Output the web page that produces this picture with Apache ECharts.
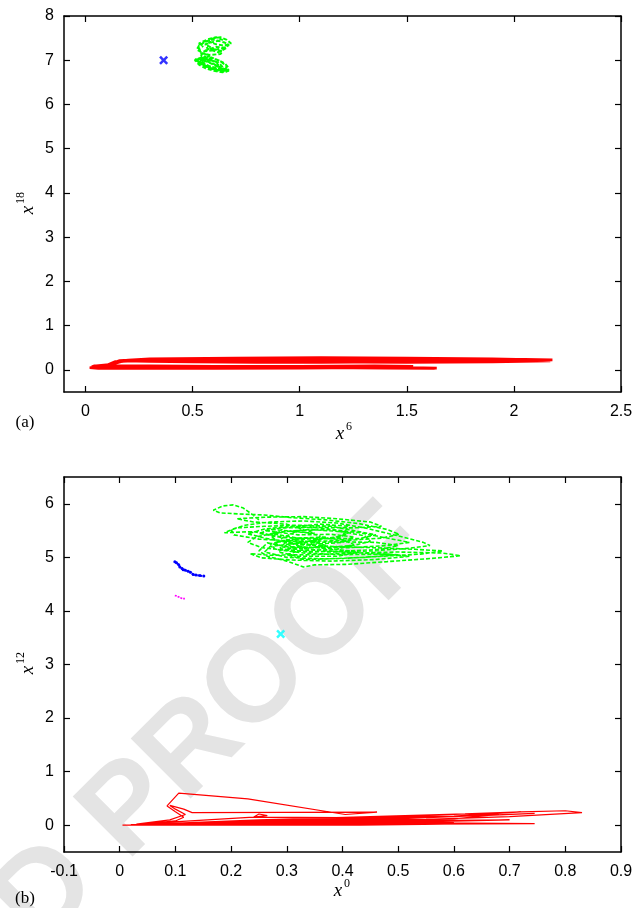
<!DOCTYPE html>
<html><head><meta charset="utf-8">
<script src="https://cdn.jsdelivr.net/npm/echarts@6/dist/echarts.min.js"></script>
<style>html,body{margin:0;padding:0;background:#fff}#c{width:643px;height:908px}</style>
</head><body><div id="c"></div>
<script>
// ---------- tick labels ----------
const xTicksA = [0, 0.5, 1, 1.5, 2, 2.5];
const yTicksA = [0, 1, 2, 3, 4, 5, 6, 7, 8];
const xTicksB = [-0.1, 0, 0.1, 0.2, 0.3, 0.4, 0.5, 0.6, 0.7, 0.8, 0.9];
const yTicksB = [0, 1, 2, 3, 4, 5, 6];

// ---------- panel (a): x^6 vs x^18 ----------
const redA = [
[1.63,0.03],[1.40,0.04],[1.10,0.05],[0.80,0.05],[0.50,0.06],[0.25,0.06],[0.08,0.06],[0.03,0.07],[0.04,0.09],[0.09,0.09],
[0.11,0.13],[0.14,0.19],[0.20,0.22],[0.35,0.24],[0.60,0.26],[0.90,0.27],[1.20,0.27],[1.50,0.26],[1.80,0.25],[2.05,0.24],
[2.18,0.23],[2.00,0.21],[1.70,0.19],[1.40,0.18],[1.10,0.17],[0.80,0.17],[0.50,0.18],[0.30,0.19],[0.18,0.20],[0.25,0.22],
[0.50,0.23],[0.90,0.24],[1.30,0.24],[1.70,0.22],[2.17,0.20],[1.90,0.18],[1.50,0.17],[1.10,0.18],[0.70,0.20],[0.40,0.21],
[0.22,0.21],[0.15,0.18],[0.10,0.11],[0.06,0.08],[0.02,0.05],[0.06,0.03],[0.30,0.04],[0.70,0.05],[1.10,0.06],[1.40,0.07],
[1.53,0.08],[1.35,0.09],[1.00,0.08],[0.60,0.08],[0.30,0.09],[0.10,0.09],[0.03,0.05],[0.20,0.03],[0.60,0.03],[1.00,0.04],
[1.30,0.05],[1.50,0.05],[1.64,0.04],[1.45,0.06],[1.10,0.07],[0.70,0.07],[0.35,0.07],[0.12,0.07],[0.05,0.09],[0.11,0.12],
[0.16,0.21],[0.30,0.25],[0.70,0.27],[1.10,0.28],[1.50,0.27],[1.90,0.25],[2.18,0.22],[1.95,0.20],[1.60,0.19],[1.20,0.19],
[0.80,0.19],[0.45,0.20],[0.25,0.20],[0.40,0.22],[0.80,0.22],[1.20,0.22],[1.60,0.21],[2.10,0.21],[1.80,0.23],[1.40,0.25],
[1.00,0.25],[0.60,0.24],[0.30,0.22],[0.17,0.19],[0.12,0.12],[0.07,0.07],[0.15,0.05],[0.40,0.05],[0.80,0.06],[1.20,0.07],
[1.52,0.07]
];
const greenA = [
[0.52,7.02],[0.56,7.05],[0.61,7.02],[0.65,6.93],[0.67,6.82],[0.66,6.74],[0.62,6.76],[0.57,6.84],[0.53,6.93],[0.51,7.00],
[0.54,7.06],[0.59,7.06],[0.63,6.98],[0.66,6.86],[0.65,6.76],[0.60,6.79],[0.55,6.90],[0.52,6.98],[0.53,7.04],[0.58,7.09],
[0.55,7.16],[0.52,7.24],[0.53,7.33],[0.56,7.42],[0.60,7.50],[0.63,7.52],[0.66,7.46],[0.68,7.38],[0.65,7.33],[0.61,7.36],
[0.58,7.42],[0.57,7.33],[0.60,7.25],[0.64,7.20],[0.63,7.14],[0.58,7.12],[0.54,7.16],[0.53,7.28],[0.55,7.40],[0.59,7.47],
[0.62,7.44],[0.65,7.40],[0.67,7.34],[0.64,7.27],[0.59,7.22],[0.55,7.20],[0.54,7.10],[0.57,7.02],[0.62,6.95],[0.64,6.85],
[0.63,6.78],[0.59,6.80],[0.54,6.92],[0.52,6.99],[0.56,7.03],[0.60,6.98],[0.62,6.90],[0.61,6.82],[0.57,6.88],[0.53,6.96],
[0.51,7.02],[0.55,7.00],[0.59,6.94],[0.62,6.86],[0.65,6.80],[0.67,6.76],[0.64,6.73],[0.60,6.76],[0.56,6.82],[0.53,6.90],
[0.52,6.96],[0.56,6.98],[0.60,6.90],[0.63,6.82],[0.66,6.78],[0.63,6.80],[0.58,6.86],[0.54,6.97],[0.57,7.05],[0.54,7.12],
[0.56,7.22],[0.61,7.30],[0.66,7.28],[0.62,7.18],[0.57,7.26],[0.56,7.36],[0.60,7.42],[0.64,7.46],[0.61,7.52],[0.57,7.47],
[0.53,7.38],[0.55,7.30]
];
const blueA = [[0.365,7.0]];

// ---------- panel (b): x^0 vs x^12 ----------
const redB = [
[0.005,0.00],[0.15,0.03],[0.35,0.07],[0.55,0.11],[0.70,0.16],[0.83,0.235],[0.80,0.27],[0.72,0.25],[0.60,0.20],[0.45,0.15],
[0.30,0.10],[0.15,0.05],[0.02,0.01],[0.20,0.04],[0.45,0.10],[0.745,0.22],[0.65,0.18],[0.48,0.14],[0.30,0.09],[0.12,0.04],
[0.01,0.00],[0.25,0.03],[0.50,0.05],[0.745,0.03],[0.55,0.02],[0.30,0.01],[0.05,0.00],[0.30,0.02],[0.583,0.02],[0.43,0.00],
[0.20,0.00],[0.02,0.00],[0.10,0.08],[0.115,0.15],[0.10,0.25],[0.085,0.36],[0.106,0.60],[0.23,0.49],[0.405,0.20],[0.462,0.245],
[0.30,0.24],[0.13,0.235],[0.115,0.30],[0.09,0.37],[0.10,0.30],[0.118,0.20],[0.09,0.10],[0.03,0.02],[0.24,0.15],[0.25,0.21],
[0.265,0.18],[0.24,0.15],[0.40,0.14],[0.60,0.17],[0.72,0.25],[0.62,0.21],[0.45,0.16],[0.25,0.10],[0.08,0.03],[0.35,0.05],
[0.58,0.07],[0.70,0.10],[0.50,0.08],[0.30,0.05],[0.05,0.01],[0.40,0.03],[0.60,0.06],[0.40,0.04],[0.15,0.01],[0.01,0.00],
[0.20,0.02],[0.40,0.06],[0.55,0.09],[0.47,0.13],[0.35,0.12],[0.20,0.07],[0.06,0.02],[0.25,0.05],[0.45,0.08],[0.60,0.12],
[0.68,0.20],[0.55,0.14],[0.38,0.09],[0.18,0.03],[0.01,0.00],[0.30,0.06],[0.52,0.10],[0.42,0.11],[0.28,0.08],[0.12,0.03],
[0.02,0.00],[0.35,0.03],[0.58,0.05],[0.45,0.06],[0.25,0.04],[0.06,0.01]
];
const greenB = [
[0.250,5.70],[0.238,5.80],[0.222,5.92],[0.204,5.98],[0.185,5.96],[0.168,5.88],[0.180,5.83],[0.215,5.81],[0.260,5.79],
[0.310,5.74],[0.370,5.70],[0.430,5.63],[0.480,5.52],[0.502,5.43],[0.470,5.36],[0.400,5.31],[0.320,5.30],[0.250,5.34],[0.205,5.42],[0.200,5.52],
[0.225,5.60],[0.270,5.66],[0.330,5.68],[0.390,5.64],[0.440,5.55],[0.500,5.40],[0.545,5.28],[0.557,5.22],[0.520,5.17],[0.450,5.12],
[0.380,5.10],[0.310,5.12],[0.255,5.18],[0.230,5.28],[0.245,5.38],[0.285,5.47],[0.340,5.52],[0.400,5.48],[0.440,5.40],[0.450,5.30],
[0.420,5.22],[0.360,5.18],[0.300,5.20],[0.265,5.27],[0.250,5.12],[0.265,5.02],[0.300,4.93],[0.330,4.82],[0.350,4.86],[0.410,4.87],
[0.480,4.92],[0.560,4.98],[0.612,5.03],[0.580,5.08],[0.500,5.10],[0.420,5.08],[0.340,5.05],[0.270,5.04],[0.234,5.07],[0.255,4.99],
[0.310,4.95],[0.380,4.93],[0.460,4.96],[0.520,5.02],[0.480,5.06],[0.400,5.05],[0.330,5.08],[0.280,5.15],[0.270,5.25],[0.300,5.33],
[0.350,5.37],[0.400,5.33],[0.420,5.24],[0.390,5.15],[0.330,5.13],[0.290,5.20],[0.300,5.30],[0.345,5.30],[0.370,5.22],[0.335,5.17],
[0.310,5.25],[0.330,5.32],[0.280,5.40],[0.240,5.48],[0.188,5.46],[0.210,5.55],[0.260,5.58],[0.320,5.60],[0.380,5.58],[0.420,5.50],
[0.460,5.42],[0.430,5.35],[0.360,5.35],[0.290,5.37],[0.250,5.45],[0.275,5.52],[0.330,5.47],[0.360,5.40],[0.350,5.28],[0.330,5.15],
[0.300,5.05],[0.330,4.96],[0.400,4.98],[0.470,5.02],[0.540,5.06],[0.580,5.12],[0.530,5.15],[0.460,5.18],[0.390,5.20],[0.320,5.24],
[0.280,5.32],[0.270,5.42],[0.300,5.49],[0.350,5.45],[0.300,5.62],[0.240,5.66],[0.210,5.72],[0.260,5.75],[0.330,5.76],[0.390,5.72],
[0.450,5.66],[0.470,5.58],[0.420,5.55],[0.350,5.56],[0.290,5.55],[0.260,5.50],[0.320,5.42],[0.380,5.43],[0.420,5.38],[0.400,5.28],
[0.340,5.24],[0.300,5.28],[0.260,5.36],[0.230,5.44],[0.260,5.53],[0.310,5.58],[0.370,5.54],[0.410,5.45],[0.390,5.36],[0.330,5.34],
[0.280,5.28],[0.290,5.16],[0.340,5.10],[0.410,5.12],[0.470,5.15],[0.500,5.22],[0.460,5.28],[0.390,5.29],[0.320,5.27],[0.270,5.20],
[0.260,5.10],[0.300,5.00],[0.370,4.97],[0.440,5.00],[0.500,5.05],[0.440,5.08],[0.370,5.12],[0.310,5.18],[0.290,5.35],[0.320,5.50],
[0.380,5.52],[0.430,5.46],[0.480,5.36],[0.520,5.28],[0.480,5.22],[0.410,5.18],[0.350,5.20],[0.340,5.30],[0.370,5.38],[0.320,5.36],
[0.275,5.44],[0.300,5.56],[0.360,5.62],[0.410,5.58],[0.400,5.40],[0.350,5.32],[0.300,5.24],[0.285,5.10],[0.320,5.02],[0.390,5.02],
[0.430,5.10],[0.380,5.16],[0.320,5.20],[0.300,5.14]
];
const blueB = [
[0.099,4.92],[0.102,4.90],[0.106,4.86],[0.108,4.82],[0.112,4.79],[0.114,4.77],[0.118,4.76],[0.123,4.74],[0.127,4.72],[0.132,4.68],
[0.137,4.67],[0.144,4.66],[0.151,4.65]
];
const magentaB = [[0.099,4.29],[0.104,4.27],[0.108,4.25],[0.113,4.23],[0.117,4.23]];
const cyanB = [[0.289,3.57]];

// ---------- chart ----------
const SANS = '"Liberation Sans", Arial, sans-serif';
const SERIF = '"Liberation Serif", "Times New Roman", serif';
const X_SYMBOL = 'path://M0,2L2,0L5,3L8,0L10,2L7,5L10,8L8,10L5,7L2,10L0,8L3,5Z';

function xAx(grid, min, max, ticks, pos) {
  const bottom = pos === 'bottom';
  return {
    type: 'value', gridIndex: grid, min: min, max: max, position: pos,
    axisLine: {show: true, onZero: false, lineStyle: {color: '#000', width: 1.5}}, splitLine: {show: false},
    axisTick: {show: true, inside: true, length: 6, customValues: ticks, lineStyle: {color: '#000', width: 1.2}},
    axisLabel: {show: bottom, customValues: ticks, margin: 12, fontSize: 16, color: '#000', fontFamily: SANS,
      formatter: v => String(v)}
  };
}
function yAx(grid, min, max, ticks, pos) {
  const left = pos === 'left';
  return {
    type: 'value', gridIndex: grid, min: min, max: max, position: pos,
    axisLine: {show: true, onZero: false, lineStyle: {color: '#000', width: 1.5}}, splitLine: {show: false},
    axisTick: {show: true, inside: true, length: 6, customValues: ticks, lineStyle: {color: '#000', width: 1.2}},
    axisLabel: {show: left, customValues: ticks, margin: 10, fontSize: 16, color: '#000', fontFamily: SANS,
      formatter: v => String(v)}
  };
}
function title(cx, cy, sup, rot) {
  return {
    type: 'group', x: cx, y: cy, rotation: rot || 0, z: 10,
    children: [
      {type: 'text', x: -3, y: 0, style: {text: 'x', font: 'italic 19px ' + SERIF, fill: '#000',
        align: 'center', verticalAlign: 'middle', textAlign: 'center', textVerticalAlign: 'middle'}},
      {type: 'text', x: 3, y: -7, style: {text: sup, font: '12px ' + SERIF, fill: '#000',
        align: 'left', verticalAlign: 'middle', textAlign: 'left', textVerticalAlign: 'middle'}}
    ]
  };
}
function plain(cx, cy, txt) {
  return {type: 'text', x: cx, y: cy, z: 10, style: {text: txt, font: '17px ' + SERIF, fill: '#000',
    align: 'center', verticalAlign: 'middle', textAlign: 'center', textVerticalAlign: 'middle'}};
}
function lineS(data, xi, yi, color, width, type, extra) {
  return Object.assign({
    type: 'line', data: data, xAxisIndex: xi, yAxisIndex: yi, showSymbol: false, symbol: 'none',
    lineStyle: {color: color, width: width, type: type}, itemStyle: {color: color},
    animation: false, silent: true, z: 3
  }, extra || {});
}

const chart = echarts.init(document.getElementById('c'), null, {renderer: 'canvas'});
chart.setOption({
  backgroundColor: '#fff',
  animation: false,
  grid: [
    {left: 64, top: 16, width: 557, height: 376, show: false},
    {left: 64, top: 477, width: 557, height: 375, show: false}
  ],
  xAxis: [
    xAx(0, -0.1, 2.5, xTicksA, 'bottom'), xAx(0, -0.1, 2.5, xTicksA, 'top'),
    xAx(1, -0.1, 0.9, xTicksB, 'bottom'), xAx(1, -0.1, 0.9, xTicksB, 'top')
  ],
  yAxis: [
    yAx(0, -0.5, 8, yTicksA, 'left'), yAx(0, -0.5, 8, yTicksA, 'right'),
    yAx(1, -0.5, 6.5, yTicksB, 'left'), yAx(1, -0.5, 6.5, yTicksB, 'right')
  ],
  graphic: {elements: [
    {type: 'text', x: 412, y: 529, rotation: Math.PI / 4, z: -10, zlevel: 0, silent: true,
      style: {text: 'UNCORRECTED PROOF', font: 'bold 123px ' + SANS, fill: '#e4e4e4',
        align: 'right', verticalAlign: 'middle', textAlign: 'right', textVerticalAlign: 'middle'}},
    title(343, 434, '6', 0),
    title(28, 207, '18', Math.PI / 2),
    plain(25, 423, '(a)'),
    title(341, 891, '0', 0),
    title(28, 667, '12', Math.PI / 2),
    plain(25, 899, '(b)')
  ]},
  series: [
    lineS(redA, 0, 0, '#ff0000', 2.6, 'solid'),
    lineS(greenA, 0, 0, '#00ff00', 2, [4, 2]),
    {type: 'scatter', data: blueA, xAxisIndex: 0, yAxisIndex: 0, symbol: X_SYMBOL, symbolSize: 9,
      itemStyle: {color: '#0000ff'}, animation: false, silent: true, z: 4},
    lineS(redB, 2, 2, '#ff0000', 1.2, 'solid'),
    lineS(greenB, 2, 2, '#00ff00', 1.6, [4, 2]),
    lineS(blueB, 2, 2, '#0000ff', 2, [2, 1], {showSymbol: true, symbol: 'circle', symbolSize: 3}),
    lineS(magentaB, 2, 2, '#ff00ff', 1.6, [2, 1]),
    {type: 'scatter', data: cyanB, xAxisIndex: 2, yAxisIndex: 2, symbol: X_SYMBOL, symbolSize: 9,
      itemStyle: {color: '#00ffff'}, animation: false, silent: true, z: 4}
  ]
});
</script>
</body></html>
